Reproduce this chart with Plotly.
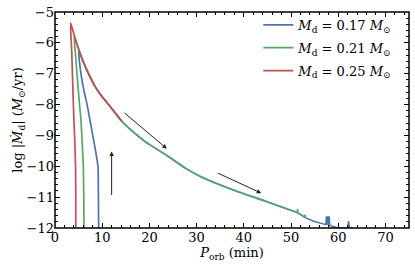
import plotly.graph_objects as go

# ---- data ----
# shared late-time track (P_orb in min, log |Mdot|)
track_p = [3.3, 4.0, 5.0, 6.0, 7.1, 8.5, 10.0, 11.3, 12.8, 14.2, 16.5, 19.1, 23.7, 27.6, 30.8, 37.8, 44.9, 51.3]
track_m = [-5.35, -5.72, -6.2, -6.62, -7.0, -7.42, -7.75, -7.99, -8.28, -8.55, -8.88, -9.2, -9.65, -10.06, -10.33, -10.77, -11.15, -11.5]

red_early_p = [4.4, 4.4, 4.35, 4.2, 4.0, 3.75, 3.55, 3.3]
red_early_m = [-12.0, -11.0, -10.0, -9.2, -8.5, -7.3, -6.3, -5.35]
red_end_p = 14.2

green_early_p = [6.15, 6.1, 6.0, 5.85, 5.5, 5.2, 4.65, 4.3, 4.05]
green_early_m = [-12.0, -11.0, -10.0, -9.5, -8.5, -8.0, -7.0, -6.3, -5.8]
green_start_p = 4.0
green_tail_p = [51.3, 51.4, 51.5, 52.2, 52.9, 53.0, 53.1]
green_tail_m = [-11.5, -11.38, -11.52, -11.57, -11.65, -11.57, -11.67]

blue_early_p = [9.25, 9.2, 9.1, 8.6, 8.0, 7.4, 6.8, 6.2, 5.5, 5.0]
blue_early_m = [-12.0, -11.0, -10.0, -9.5, -9.0, -8.5, -8.0, -7.6, -7.0, -6.25]
blue_start_p = 5.0
blue_tail_p = [51.3, 52.2, 53.1, 54.8, 56.5, 57.4, 57.5, 57.6, 57.8, 57.9, 58.1, 58.2, 59.1, 60.0, 61.0, 62.0, 62.2, 62.4, 63.0]
blue_tail_m = [-11.5, -11.58, -11.67, -11.78, -11.86, -11.89, -11.62, -11.89, -11.62, -11.9, -11.62, -11.92, -11.96, -12.0, -11.99, -12.0, -11.78, -12.0, -11.98]

labels = ["0.17", "0.21", "0.25"]
colors = ["#4C72B0", "#55A868", "#C44E52"]

# arrows: (tail_x, tail_y, head_x, head_y)
arrow_tail_p = [14.4, 34.2, 12.0]
arrow_tail_m = [-8.23, -10.2, -10.98]
arrow_head_p = [23.7, 43.7, 12.0]
arrow_head_m = [-9.43, -10.87, -9.52]

x_range = [0, 75]
y_range = [-12, -5]

# ---- build series ----
def seg(cond):
    return ([p for p in track_p if cond(p)], [m for p, m in zip(track_p, track_m) if cond(p)])

tp, tm = seg(lambda p: p > blue_start_p)
blue_p, blue_m = blue_early_p + tp, blue_early_m + tm

tp, tm = seg(lambda p: p > green_start_p)
green_p, green_m = green_early_p + tp, green_early_m + tm

tp, tm = seg(lambda p: p > red_early_p[-1] and p <= red_end_p)
red_p, red_m = red_early_p + tp, red_early_m + tm

series = [(blue_p, blue_m, blue_tail_p, blue_tail_m, "x", "y"),
          (green_p, green_m, green_tail_p, green_tail_m, "x", "y"),
          (red_p, red_m, None, None, "x2", "y2")]   # red drawn on the overlay axes (gives top/right ticks)

FONT = "DejaVu Serif"
fig = go.Figure()
for i, ((xs, ys, txs, tys, xa, ya), lab, col) in enumerate(zip(series, labels, colors)):
    fig.add_trace(go.Scatter(
        x=xs, y=ys, mode="lines", xaxis=xa, yaxis=ya,
        line=dict(color=col, width=1.7, shape="spline", smoothing=0.6),
        name=f"<i>M</i><sub>d</sub> = {lab} <i>M</i><sub>⊙</sub>",
        legendgroup=f"g{i}",
    ))
    if txs:
        fig.add_trace(go.Scatter(
            x=txs, y=tys, mode="lines", line=dict(color=col, width=1.5),
            legendgroup=f"g{i}", showlegend=False,
        ))

for tx, ty, hx, hy in zip(arrow_tail_p, arrow_tail_m, arrow_head_p, arrow_head_m):
    fig.add_annotation(
        x=hx, y=hy, ax=tx, ay=ty, xref="x", yref="y", axref="x", ayref="y",
        showarrow=True, arrowhead=2, arrowsize=0.9, arrowwidth=1.0,
        arrowcolor="#222222", text="",
    )

# frame
fig.add_shape(type="rect", xref="paper", yref="paper", x0=0, x1=1, y0=0, y1=1,
              line=dict(color="black", width=1.5), layer="above")

tick_common = dict(
    showgrid=False, zeroline=False, showline=False,
    ticks="inside", ticklen=5, tickwidth=1, tickcolor="black",
    tickfont=dict(family=FONT, size=13, color="black"),
)
x_minor = dict(dtick=2, ticks="inside", ticklen=3, tickcolor="black")
y_minor = dict(dtick=0.2, ticks="inside", ticklen=3, tickcolor="black")

fig.update_layout(
    xaxis=dict(
        range=x_range, dtick=10, minor=x_minor,
        title=dict(text="<i>P</i><sub>orb</sub> (min)", font=dict(family=FONT, size=13, color="black"), standoff=0),
        **tick_common,
    ),
    yaxis=dict(
        range=y_range, dtick=1, minor=y_minor,
        title=dict(text="log |<i>Ṁ</i><sub>d</sub>| (<i>M</i><sub>⊙</sub>/yr)", font=dict(family=FONT, size=13, color="black"), standoff=0),
        **tick_common,
    ),
    xaxis2=dict(
        range=x_range, dtick=10, minor=x_minor,
        overlaying="x", side="top", anchor="y2", showticklabels=False,
        **tick_common,
    ),
    yaxis2=dict(
        range=y_range, dtick=1, minor=y_minor,
        overlaying="y", side="right", anchor="x2", showticklabels=False,
        **tick_common,
    ),
    width=415, height=265,
    margin=dict(l=55, r=6, t=12, b=37),
    paper_bgcolor="white", plot_bgcolor="white",
    showlegend=True,
    legend=dict(
        x=0.967, y=1.01, xanchor="right", yanchor="top",
        bgcolor="rgba(0,0,0,0)", font=dict(family=FONT, size=13, color="black"),
        tracegroupgap=3, itemwidth=30,
    ),
)

fig.write_html("out.html", config={"displayModeBar": False},
               post_script="document.body.style.margin='0';document.body.style.overflow='hidden';")
